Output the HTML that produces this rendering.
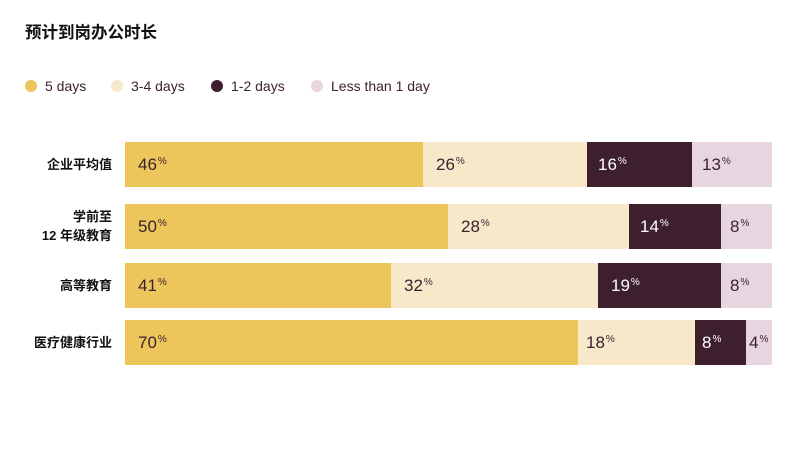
<!DOCTYPE html>
<html><head><meta charset="utf-8"><style>
html,body{margin:0;padding:0;background:#fff;}
body{width:800px;height:450px;position:relative;overflow:hidden;font-family:"Liberation Sans","Noto Sans CJK SC",sans-serif;}
.title{position:absolute;left:25px;top:22px;font-size:16.5px;font-weight:bold;color:#111;line-height:22px;}
.leg{position:absolute;top:77px;height:18px;font-size:14px;color:#3d2330;line-height:18px;}
.leg .dot{position:absolute;left:0;top:3px;width:12px;height:12px;border-radius:50%;}
.leg span.t{position:absolute;left:20px;top:0;white-space:nowrap;}
.lab{position:absolute;right:688px;font-size:13px;font-weight:bold;color:#111;text-align:right;white-space:nowrap;line-height:19px;}
.seg{position:absolute;height:45px;}
.v{position:absolute;top:13px;font-size:17px;line-height:20px;color:#3b2230;white-space:nowrap;}
.v sup{font-size:10px;vertical-align:top;position:relative;top:-3px;margin-left:1px;}
.w{color:#fff;}
.y{background:#ECC55B;}.l{background:#F6E8C9;}.d{background:#3D1F2D;}.p{background:#E7D5DF;}
</style></head><body>
<div class="title">预计到岗办公时长</div>
<div class="leg" style="left:25px"><div class="dot" style="background:#ECC55B"></div><span class="t">5 days</span></div>
<div class="leg" style="left:111px"><div class="dot" style="background:#F6E8C9"></div><span class="t">3-4 days</span></div>
<div class="leg" style="left:211px"><div class="dot" style="background:#3D1F2D"></div><span class="t">1-2 days</span></div>
<div class="leg" style="left:311px"><div class="dot" style="background:#E7D5DF"></div><span class="t">Less than 1 day</span></div>

<div class="lab" style="top:155px">企业平均值</div>
<div class="lab" style="top:207px">学前至<br>12 年级教育</div>
<div class="lab" style="top:276px">高等教育</div>
<div class="lab" style="top:333px">医疗健康行业</div>

<!-- row 1 -->
<div class="seg y" style="left:125px;top:142px;width:298px"><div class="v" style="left:13px">46<sup>%</sup></div></div>
<div class="seg l" style="left:423px;top:142px;width:164px"><div class="v" style="left:13px">26<sup>%</sup></div></div>
<div class="seg d" style="left:587px;top:142px;width:105px"><div class="v w" style="left:11px">16<sup>%</sup></div></div>
<div class="seg p" style="left:692px;top:142px;width:80px"><div class="v" style="left:10px">13<sup>%</sup></div></div>
<!-- row 2 -->
<div class="seg y" style="left:125px;top:204px;width:323px"><div class="v" style="left:13px">50<sup>%</sup></div></div>
<div class="seg l" style="left:448px;top:204px;width:181px"><div class="v" style="left:13px">28<sup>%</sup></div></div>
<div class="seg d" style="left:629px;top:204px;width:92px"><div class="v w" style="left:11px">14<sup>%</sup></div></div>
<div class="seg p" style="left:721px;top:204px;width:51px"><div class="v" style="left:9px">8<sup>%</sup></div></div>
<!-- row 3 -->
<div class="seg y" style="left:125px;top:263px;width:266px"><div class="v" style="left:13px">41<sup>%</sup></div></div>
<div class="seg l" style="left:391px;top:263px;width:207px"><div class="v" style="left:13px">32<sup>%</sup></div></div>
<div class="seg d" style="left:598px;top:263px;width:123px"><div class="v w" style="left:13px">19<sup>%</sup></div></div>
<div class="seg p" style="left:721px;top:263px;width:51px"><div class="v" style="left:9px">8<sup>%</sup></div></div>
<!-- row 4 -->
<div class="seg y" style="left:125px;top:320px;width:453px"><div class="v" style="left:13px">70<sup>%</sup></div></div>
<div class="seg l" style="left:578px;top:320px;width:117px"><div class="v" style="left:8px">18<sup>%</sup></div></div>
<div class="seg d" style="left:695px;top:320px;width:51px"><div class="v w" style="left:7px">8<sup>%</sup></div></div>
<div class="seg p" style="left:746px;top:320px;width:26px"><div class="v" style="left:3px">4<sup>%</sup></div></div>
</body></html>
